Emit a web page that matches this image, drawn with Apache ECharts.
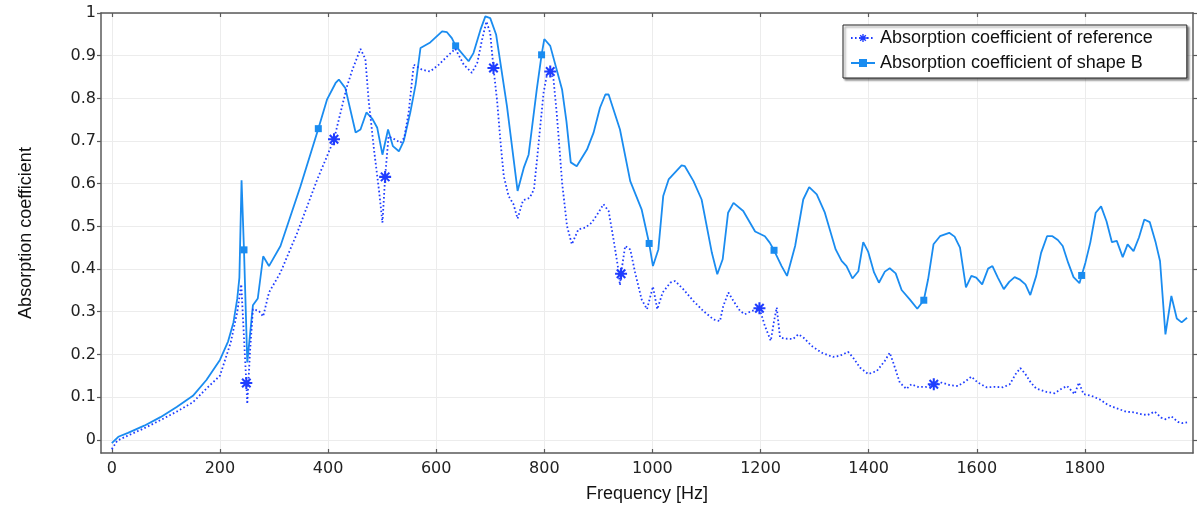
<!DOCTYPE html>
<html>
<head>
<meta charset="utf-8">
<script src="https://cdn.jsdelivr.net/npm/echarts@6/dist/echarts.min.js"></script>
<style>
html,body{margin:0;padding:0;background:#fff;}
#chart{width:1198px;height:508px;}
</style>
</head>
<body>
<div id="chart"></div>
<script>
// ---------------- data ----------------
const xTicks = [0, 200, 400, 600, 800, 1000, 1200, 1400, 1600, 1800];
const yTicks = [0, 0.1, 0.2, 0.3, 0.4, 0.5, 0.6, 0.7, 0.8, 0.9, 1];

const seriesNames = ['Absorption coefficient of reference', 'Absorption coefficient of shape B'];

const refFreq = [0, 10, 30, 60, 90, 120, 150, 175, 200, 220, 232, 239.5, 248.8, 250.6, 255.6, 261, 272, 280, 290.7, 312, 343, 380, 398, 411, 423, 435, 445, 460, 469, 475, 485, 494, 500.6, 505.6, 512, 521.5, 534, 541, 549, 558.5, 574, 589, 605, 620, 635.5, 651, 666, 676, 685, 693, 700, 706, 712.5, 718.6, 725, 734, 743, 750.6, 760.6, 773, 781, 789, 798.6, 805, 811, 817, 823, 833, 842, 851, 863, 876, 888, 900, 909.5, 919, 928, 936, 940, 942, 949.6, 959, 968, 980, 990, 1001, 1009, 1019, 1033, 1042, 1057, 1076, 1094, 1113, 1125, 1131, 1140.5, 1150, 1162, 1171, 1184, 1198, 1208, 1219, 1225, 1230, 1236, 1245, 1260, 1270, 1279, 1294.5, 1313, 1334, 1347, 1362, 1371, 1384, 1399, 1415, 1430, 1439, 1446.5, 1457.6, 1470, 1479, 1491, 1507, 1520.5, 1535, 1550, 1565, 1578, 1590, 1602, 1618, 1633, 1648.5, 1661, 1672, 1680.6, 1690, 1700, 1710, 1729, 1744, 1756, 1767, 1775, 1781, 1789, 1797.5, 1812, 1827, 1842, 1858, 1876, 1892, 1904, 1916, 1929, 1941, 1950, 1960, 1972, 1980, 1989];
const refAlpha = [-0.022, -0.002, 0.01, 0.027, 0.046, 0.066, 0.088, 0.12, 0.15, 0.228, 0.299, 0.364, 0.133, 0.084, 0.205, 0.306, 0.302, 0.289, 0.345, 0.392, 0.485, 0.61, 0.664, 0.704, 0.766, 0.828, 0.867, 0.916, 0.892, 0.797, 0.68, 0.587, 0.509, 0.616, 0.711, 0.705, 0.696, 0.708, 0.766, 0.879, 0.867, 0.863, 0.879, 0.898, 0.916, 0.879, 0.86, 0.883, 0.938, 0.98, 0.953, 0.871, 0.797, 0.704, 0.618, 0.571, 0.552, 0.518, 0.561, 0.567, 0.587, 0.688, 0.813, 0.856, 0.863, 0.844, 0.766, 0.602, 0.501, 0.458, 0.493, 0.497, 0.509, 0.532, 0.552, 0.536, 0.47, 0.407, 0.362, 0.389, 0.454, 0.446, 0.392, 0.329, 0.306, 0.359, 0.306, 0.345, 0.368, 0.372, 0.353, 0.325, 0.302, 0.282, 0.278, 0.313, 0.345, 0.325, 0.302, 0.294, 0.302, 0.308, 0.267, 0.232, 0.278, 0.31, 0.24, 0.237, 0.236, 0.247, 0.24, 0.22, 0.204, 0.194, 0.197, 0.206, 0.193, 0.169, 0.154, 0.161, 0.185, 0.204, 0.177, 0.134, 0.119, 0.13, 0.124, 0.124, 0.13, 0.134, 0.128, 0.126, 0.136, 0.148, 0.134, 0.123, 0.124, 0.123, 0.13, 0.154, 0.168, 0.154, 0.134, 0.12, 0.112, 0.109, 0.119, 0.126, 0.115, 0.107, 0.134, 0.107, 0.103, 0.095, 0.082, 0.074, 0.066, 0.064, 0.06, 0.058, 0.066, 0.052, 0.048, 0.055, 0.042, 0.039, 0.041];
const refMarkerFreq = [248.8, 411, 505.6, 706, 811, 942, 1198, 1520.5];

const bFreq = [0, 12, 30, 60, 90, 120, 150, 175, 200, 215, 225, 232, 236, 240, 244.5, 250.6, 261, 270, 280, 290.7, 312, 349, 382, 398, 414, 420, 432, 451, 460, 471, 482, 491, 500.6, 511, 520, 531, 540, 552, 562, 571, 589, 611, 620, 629, 636, 660, 669, 682, 691, 700, 711, 731, 750.6, 762, 771, 786, 795, 800, 811, 833, 841, 849, 860, 879, 891, 903, 913, 919, 940, 959, 980, 994, 1001, 1011, 1020, 1030, 1054, 1060, 1076, 1091, 1110, 1120, 1130, 1140, 1150, 1168, 1190, 1208, 1217, 1225, 1239, 1249, 1264, 1279, 1290, 1304, 1319, 1339, 1350, 1359, 1370, 1381, 1390, 1399, 1410, 1419, 1430, 1439, 1450, 1461, 1476, 1490, 1502, 1510, 1520, 1532, 1549, 1559, 1569, 1580, 1590, 1599, 1610, 1621, 1629, 1639, 1650, 1660, 1670, 1679, 1690, 1699, 1710, 1719, 1730, 1740, 1750, 1759, 1769, 1779, 1790, 1794, 1801, 1810, 1820, 1830, 1840, 1850, 1859, 1870, 1879, 1890, 1900, 1910, 1920, 1931, 1939, 1949, 1960, 1970, 1979, 1989];
const bAlpha = [-0.008, 0.007, 0.016, 0.033, 0.053, 0.077, 0.103, 0.14, 0.187, 0.23, 0.275, 0.33, 0.38, 0.608, 0.445, 0.181, 0.315, 0.331, 0.43, 0.407, 0.454, 0.594, 0.729, 0.797, 0.836, 0.844, 0.824, 0.72, 0.727, 0.767, 0.752, 0.731, 0.668, 0.727, 0.688, 0.676, 0.70, 0.766, 0.832, 0.918, 0.931, 0.957, 0.955, 0.941, 0.923, 0.887, 0.906, 0.961, 0.992, 0.988, 0.949, 0.781, 0.583, 0.637, 0.668, 0.82, 0.902, 0.939, 0.923, 0.82, 0.746, 0.65, 0.641, 0.68, 0.719, 0.778, 0.809, 0.809, 0.727, 0.606, 0.54, 0.46, 0.407, 0.446, 0.571, 0.61, 0.643, 0.641, 0.606, 0.563, 0.438, 0.388, 0.423, 0.532, 0.555, 0.536, 0.488, 0.477, 0.462, 0.444, 0.407, 0.384, 0.454, 0.563, 0.592, 0.575, 0.532, 0.446, 0.419, 0.407, 0.378, 0.395, 0.463, 0.441, 0.392, 0.368, 0.394, 0.402, 0.39, 0.351, 0.329, 0.307, 0.327, 0.376, 0.458, 0.477, 0.485, 0.476, 0.45, 0.357, 0.384, 0.38, 0.364, 0.401, 0.407, 0.38, 0.353, 0.37, 0.381, 0.376, 0.364, 0.339, 0.384, 0.438, 0.477, 0.477, 0.468, 0.454, 0.415, 0.381, 0.367, 0.385, 0.415, 0.462, 0.532, 0.547, 0.512, 0.463, 0.466, 0.428, 0.458, 0.442, 0.474, 0.516, 0.51, 0.462, 0.419, 0.247, 0.337, 0.284, 0.275, 0.286];
const bMarkerFreq = [244.5, 382, 636, 795, 994, 1225, 1502, 1794];

// ---------------- styling helpers ----------------
const refColor = '#1f3dff';
const bColor = '#1a8cf0';

// asterisk symbol built from four thin bars
function asteriskPath() {
  const L = 10, w = 1.7;
  let p = '';
  [0, 45, 90, 135].forEach(function (deg) {
    const a = deg * Math.PI / 180;
    const dx = Math.cos(a), dy = Math.sin(a);
    const px = -dy, py = dx;
    const pts = [
      [L * dx + w * px, L * dy + w * py],
      [-L * dx + w * px, -L * dy + w * py],
      [-L * dx - w * px, -L * dy - w * py],
      [L * dx - w * px, L * dy - w * py]
    ];
    p += 'M' + pts.map(function (q) { return q[0].toFixed(3) + ' ' + q[1].toFixed(3); }).join(' L') + ' Z ';
  });
  return 'path://' + p;
}
const STAR = asteriskPath();

function buildData(freq, alpha, markers, sym) {
  return freq.map(function (f, i) {
    const isMark = markers.indexOf(f) >= 0;
    return { value: [f, alpha[i]], symbol: isMark ? sym : 'none' };
  });
}

const frameColor = '#5a5a5a';
const labelFont = 'DejaVu Sans';
const textFont = 'Liberation Sans';
const plainNum = function (v) { return String(v); };

const chart = echarts.init(document.getElementById('chart'), null, { renderer: 'canvas' });

const option = {
  animation: false,
  backgroundColor: '#ffffff',
  grid: { left: 101, right: 5, top: 13, bottom: 54, containLabel: false },
  legend: {
    orient: 'vertical',
    left: 843,
    top: 25,
    padding: [3, 34, 5, 7],
    itemWidth: 24,
    itemHeight: 10,
    itemGap: 5,
    backgroundColor: '#ffffff',
    borderColor: '#222',
    borderWidth: 1,
    borderRadius: 0,
    shadowColor: 'rgba(0,0,0,0.45)',
    shadowBlur: 2,
    shadowOffsetX: 2,
    shadowOffsetY: 2,
    textStyle: { fontFamily: textFont, fontSize: 18, color: '#111', lineHeight: 20 },
    data: seriesNames
  },
  xAxis: [
    {
      type: 'value',
      position: 'bottom',
      min: -20,
      max: 2000,
      name: 'Frequency [Hz]',
      nameLocation: 'middle',
      nameGap: 32,
      nameTextStyle: { fontFamily: textFont, fontSize: 18, color: '#111' },
      axisLine: { show: true, onZero: false, lineStyle: { color: frameColor, width: 1.5 } },
      axisTick: { show: true, inside: true, length: 4, customValues: xTicks, lineStyle: { color: frameColor, width: 1.2 } },
      axisLabel: { show: true, customValues: xTicks, formatter: plainNum, margin: 8, fontFamily: labelFont, fontSize: 16, color: '#222' },
      splitLine: { show: true, lineStyle: { color: '#ececec', width: 1 } }
    },
    {
      type: 'value',
      position: 'top',
      min: -20,
      max: 2000,
      axisLine: { show: true, onZero: false, lineStyle: { color: frameColor, width: 1.5 } },
      axisTick: { show: true, inside: true, length: 4, customValues: xTicks, lineStyle: { color: frameColor, width: 1.2 } },
      axisLabel: { show: false },
      splitLine: { show: false }
    }
  ],
  yAxis: [
    {
      type: 'value',
      position: 'left',
      min: -0.031,
      max: 1,
      name: 'Absorption coefficient',
      nameLocation: 'middle',
      nameGap: 66,
      nameRotate: 90,
      nameTextStyle: { fontFamily: textFont, fontSize: 18, color: '#111' },
      axisLine: { show: true, onZero: false, lineStyle: { color: frameColor, width: 1.5 } },
      axisTick: { show: true, inside: false, length: 4, customValues: yTicks, lineStyle: { color: frameColor, width: 1.2 } },
      axisLabel: { show: true, customValues: yTicks, formatter: plainNum, margin: 5, fontFamily: labelFont, fontSize: 16, color: '#222' },
      splitLine: { show: true, lineStyle: { color: '#ececec', width: 1 } }
    },
    {
      type: 'value',
      position: 'right',
      min: -0.031,
      max: 1,
      axisLine: { show: true, onZero: false, lineStyle: { color: frameColor, width: 1.5 } },
      axisTick: { show: true, inside: false, length: 4, customValues: yTicks, lineStyle: { color: frameColor, width: 1.2 } },
      axisLabel: { show: false },
      splitLine: { show: false }
    }
  ],
  series: [
    {
      name: seriesNames[0],
      type: 'line',
      xAxisIndex: 0,
      yAxisIndex: 0,
      data: buildData(refFreq, refAlpha, refMarkerFreq, STAR),
      symbol: STAR,
      symbolSize: 12,
      showSymbol: true,
      showAllSymbol: true,
      smooth: false,
      z: 3,
      itemStyle: { color: refColor },
      lineStyle: { color: refColor, width: 1.8, type: [1.6, 2.4] }
    },
    {
      name: seriesNames[1],
      type: 'line',
      xAxisIndex: 0,
      yAxisIndex: 0,
      data: buildData(bFreq, bAlpha, bMarkerFreq, 'rect'),
      symbol: 'rect',
      symbolSize: 7,
      showSymbol: true,
      showAllSymbol: true,
      smooth: false,
      z: 2,
      itemStyle: { color: bColor },
      lineStyle: { color: bColor, width: 1.8, type: 'solid' }
    }
  ]
};

chart.setOption(option);
</script>
</body>
</html>
